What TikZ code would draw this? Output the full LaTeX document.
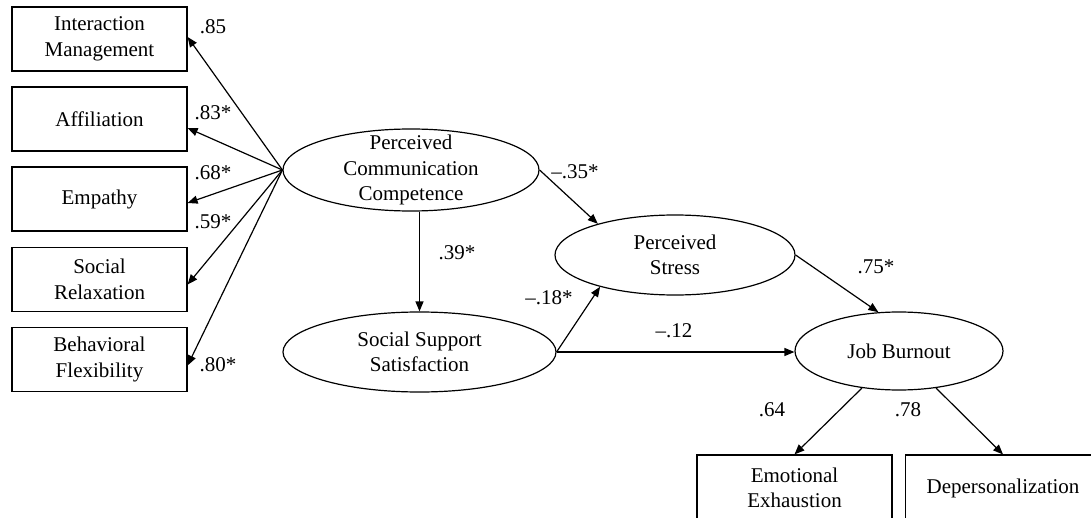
\documentclass[tikz,border=0pt]{standalone}
\usepackage{fontspec}
\setmainfont{Liberation Serif}
\usetikzlibrary{shapes.geometric,arrows.meta}

\begin{document}
\begin{tikzpicture}[x=0.5pt,y=-0.5pt,line width=0.6pt,
    every node/.style={font=\fontsize{10.5pt}{12.75pt}\selectfont},
    observed/.style={draw, rectangle, align=center, inner sep=0pt, minimum width=87.5pt, minimum height=32pt},
    outcome/.style={observed, minimum width=97.5pt, minimum height=33pt},
    latent/.style={draw, ellipse, align=center, inner sep=0pt},
    coef/.style={inner sep=0pt},
    effect/.style={-{Triangle[length=5pt,width=4pt]}}]
    \clip (0,0) rectangle (1091,518);

    \node (im)[observed]  at (99.5,39)  {Interaction\\Management};
    \node (aff)[observed] at (99.5,119) {Affiliation};
    \node (emp)[observed] at (99.5,199) {Empathy};
    \node (sr)[observed]  at (99.5,279.5) {Social\\Relaxation};
    \node (bf)[observed]  at (99.5,359.5) {Behavioral\\Flexibility};

    \node (ee)[outcome]  at (794.5,488) {Emotional\\Exhaustion};
    \node (dep)[outcome] at (1003,488)  {Depersonalization};

    \node (pcc)[latent, minimum width=128pt, minimum height=41pt, inner ysep=-4pt] at (411,170) {Perceived\\Communication\\Competence};
    \node (ps)[latent, minimum width=120pt, minimum height=40pt]   at (675,255)   {Perceived\\Stress};
    \node (sss)[latent, minimum width=136.5pt, minimum height=40pt] at (419.5,352) {Social Support\\Satisfaction};
    \node (jb)[latent, minimum width=104pt, minimum height=39pt]   at (899,351)   {Job Burnout};

    \foreach \ind/\dy in {im/1, aff/-4.5, emp/-2, sr/-2.5, bf/-3}
      \draw[effect] (pcc.west) -- ([yshift=\dy pt]\ind.east);

    \draw[effect] (pcc.east) -- (ps.158);
    \draw[effect] (pcc.south -| sss.north) -- (sss.north);
    \draw[effect] (sss.east) -- (ps.203);
    \draw[effect] (sss.east) -- (sss.east -| jb.west);
    \draw[effect] (ps.east) -- (jb.118);
    \draw[effect] (jb.225) -- (ee.north);
    \draw[effect] (jb.-45) -- (dep.north);

    \node (c85)[coef] at (213,27)  {.85};
    \node (c83)[coef] at (213,113) {.83*};
    \node (c68)[coef] at (213,173) {.68*};
    \node (c59)[coef] at (213,222) {.59*};
    \node (c80)[coef] at (218,365) {.80*};
    \node (c35)[coef] at (575,172) {–.35*};
    \node (c39)[coef] at (457,253) {.39*};
    \node (c18)[coef] at (549,298) {–.18*};
    \node (c12)[coef] at (674,331) {–.12};
    \node (c75)[coef] at (876,267) {.75*};
    \node (c64)[coef] at (772,410) {.64};
    \node (c78)[coef] at (908,410) {.78};
\end{tikzpicture}
\end{document}
